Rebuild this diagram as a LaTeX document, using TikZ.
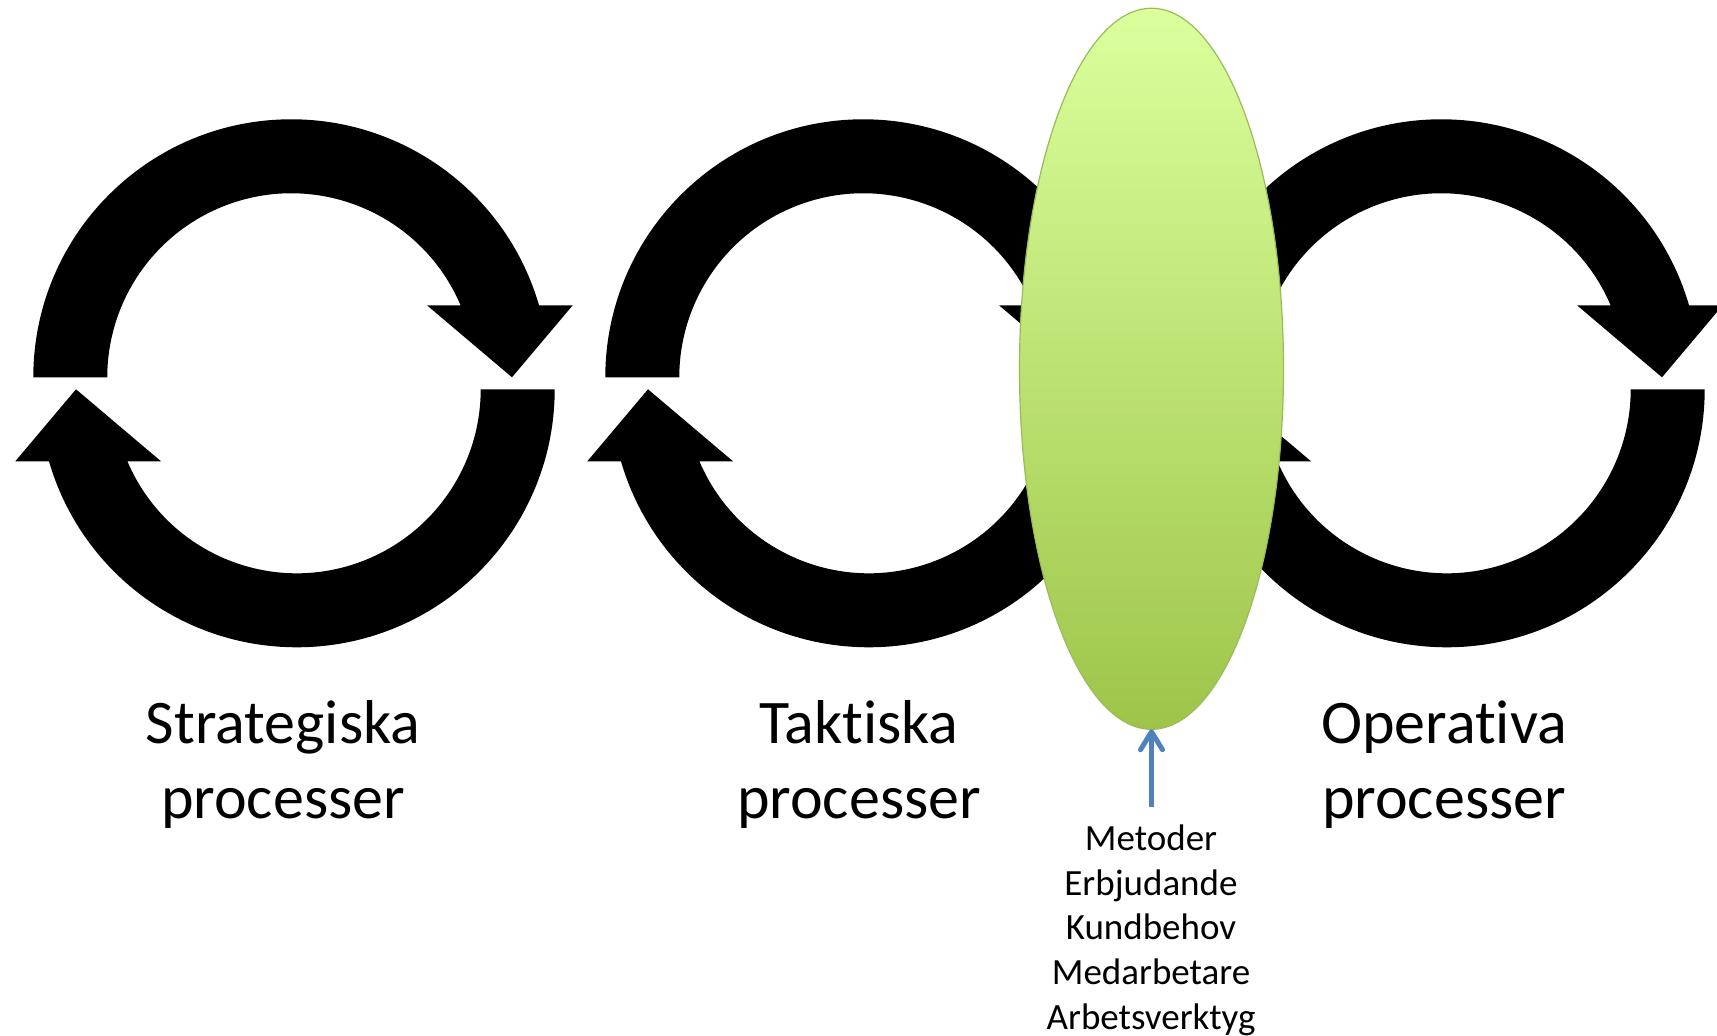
\documentclass[tikz,border=0pt]{standalone}
\usepackage{fontspec}
\setmainfont{Carlito}[Ligatures={NoCommon,TeX}]
\usetikzlibrary{arrows.meta,shapes.geometric}
\definecolor{limetop}{HTML}{DBFF9D}
\definecolor{limebot}{HTML}{9EC549}
\definecolor{limeedge}{HTML}{9BBB59}
\definecolor{officeblue}{HTML}{4F81BD}
\tikzset{
  pics/cyclearrows/.style={code={
    \fill[black] (-260.7,6) arc[start angle=180,end angle=16.2,radius=258]
      -- (278.7,78) -- (218,6) -- (133,78) -- (166.6,78)
      arc[start angle=23.04,end angle=180,radius=184] -- cycle;
    \fill[black,rotate=180] (-260.7,6) arc[start angle=180,end angle=16.2,radius=258]
      -- (278.7,78) -- (218,6) -- (133,78) -- (166.6,78)
      arc[start angle=23.04,end angle=180,radius=184] -- cycle;
  }},
  biglabel/.style={font=\fontsize{62}{75}\selectfont, align=center, anchor=base, inner sep=0pt},
  smalllabel/.style={font=\fontsize{37}{44.65}\selectfont, align=center, anchor=base, inner sep=0pt},
  lens/.style={ellipse, draw=limeedge, line width=1.2pt, top color=limetop, bottom color=limebot,
    minimum width=264pt, minimum height=721pt, inner sep=0pt, outer sep=0pt},
  feed/.style={draw=officeblue, line width=5pt, -{Straight Barb[length=18pt,width=22pt,round]}}
}
\begin{document}
\begin{tikzpicture}[x=1pt,y=1pt]
\useasboundingbox (0,0) rectangle (1717,1036);
\fill[white] (0,0) rectangle (1717,1036);
\pic (strat) at (294,652.7) {cyclearrows};
\pic (takt) at (866,652.7) {cyclearrows};
\pic (oper) at (1444,652.7) {cyclearrows};
\node[lens] (lensnode) at (1151.5,667.2) {};
\coordinate (feedstart) at (1151.5,229.3);
\draw[feed] (feedstart) -- (lensnode.south);
\node[biglabel] (stratlabel) at (283,217.7) {Strategiska\\processer};
\node[biglabel] (taktlabel) at (859,217.7) {Taktiska\\processer};
\node[biglabel] (operlabel) at (1444,217.7) {Operativa\\processer};
\node[smalllabel] (factors) at (1151,6.7) {Metoder\\Erbjudande\\Kundbehov\\Medarbetare\\Arbetsverktyg};
\end{tikzpicture}
\end{document}
